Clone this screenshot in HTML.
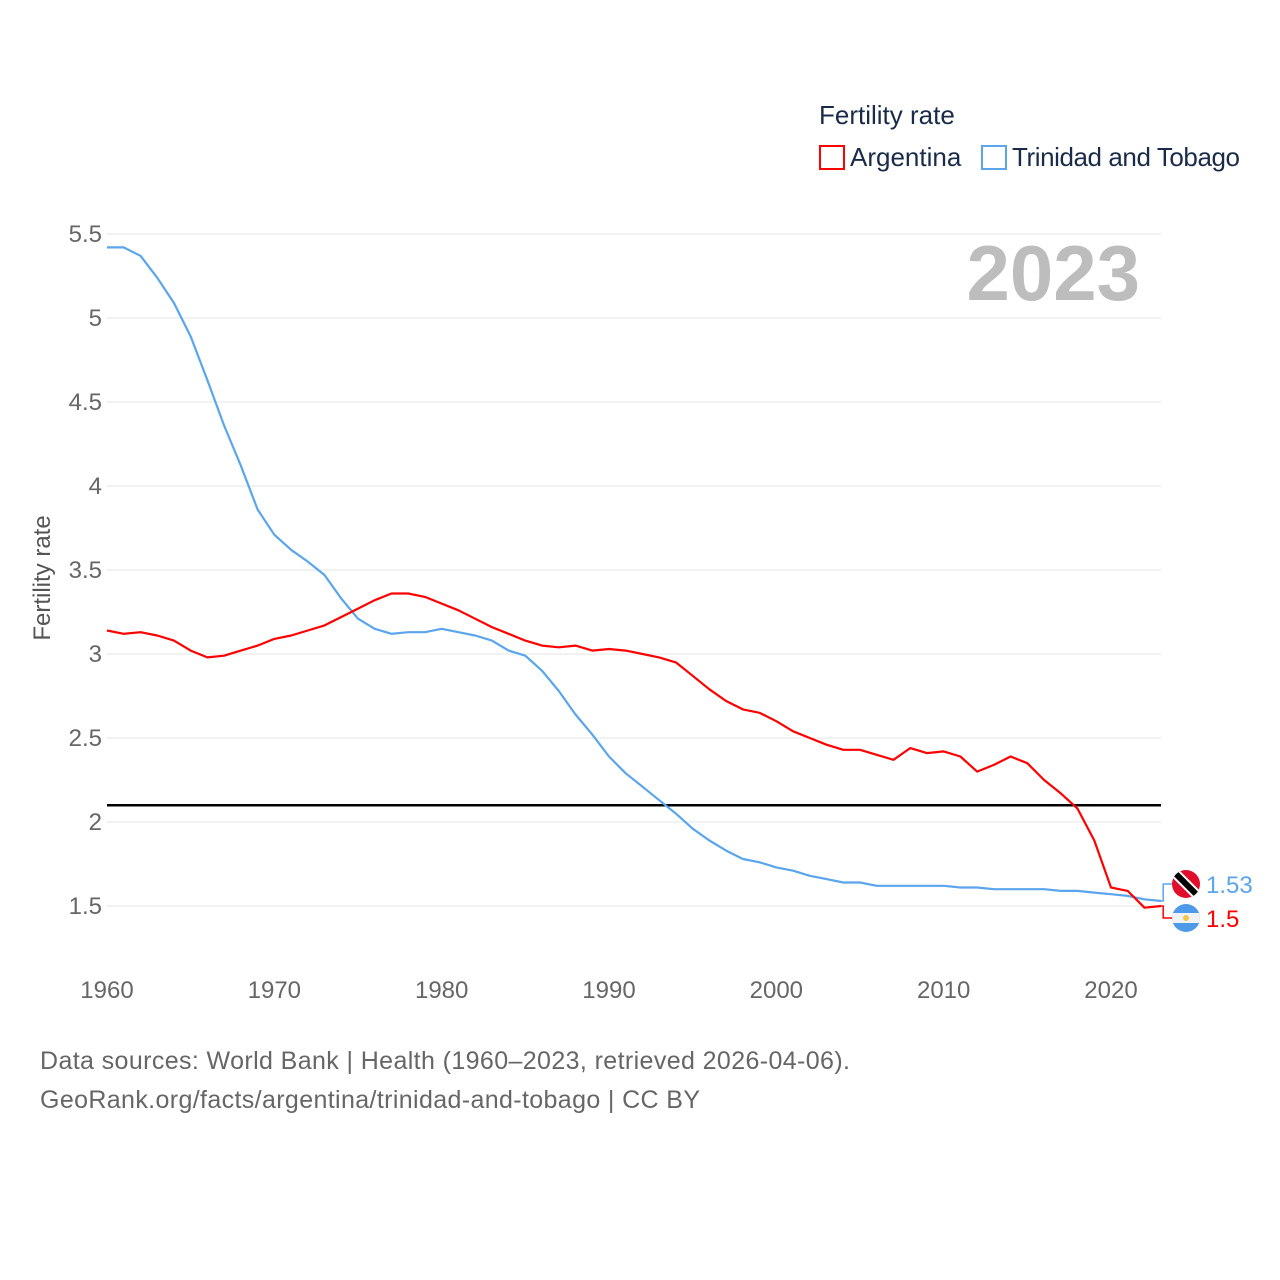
<!DOCTYPE html>
<html><head><meta charset="utf-8"><style>
body{margin:0;background:#fff;font-family:"Liberation Sans",sans-serif}
</style></head><body>
<svg id="chart" width="1280" height="1280" xmlns="http://www.w3.org/2000/svg" style="display:block">
<defs>
<clipPath id="ctt"><circle cx="1186" cy="884" r="14"/></clipPath>
<clipPath id="car"><circle cx="1186" cy="918" r="14"/></clipPath>
</defs>
<g>
<text x="819" y="124" font-size="26" fill="#1a2b4a">Fertility rate</text>
<rect x="820" y="146" width="24" height="23" fill="none" stroke="#f00" stroke-width="2"/>
<text x="850" y="166" font-size="26" fill="#1a2b4a">Argentina</text>
<rect x="982" y="146" width="24" height="23" fill="none" stroke="#5aa5ec" stroke-width="2"/>
<text x="1012" y="166" font-size="26" fill="#1a2b4a" textLength="228">Trinidad and Tobago</text>
</g>
<text x="1140" y="300" font-size="78" font-weight="bold" fill="#bdbdbd" text-anchor="end">2023</text>
<g id="grid"></g>
<g id="ticks"></g>
<text transform="translate(50,578) rotate(-90)" font-size="24" fill="#555" text-anchor="middle">Fertility rate</text>
<g id="series"></g>
<g>
<g clip-path="url(#ctt)">
<rect x="1172" y="870" width="28" height="28" fill="#e00d2c"/>
<line x1="1172" y1="870" x2="1200" y2="898" stroke="#fff" stroke-width="10"/>
<line x1="1172" y1="870" x2="1200" y2="898" stroke="#000" stroke-width="6"/>
</g>
<g clip-path="url(#car)">
<rect x="1172" y="904" width="28" height="28" fill="#4d9ae8"/>
<rect x="1172" y="913" width="28" height="10" fill="#f2f2f2"/>
<circle cx="1186" cy="918" r="3" fill="#f5c542"/>
</g>
<text x="1206" y="893" font-size="24" fill="#5aa5ec">1.53</text>
<text x="1206" y="927" font-size="24" fill="#f00">1.5</text>
</g>
<text x="40" y="1069" font-size="25" fill="#666" textLength="810">Data sources: World Bank | Health (1960–2023, retrieved 2026-04-06).</text>
<text x="40" y="1108" font-size="25" fill="#666" textLength="660">GeoRank.org/facts/argentina/trinidad-and-tobago | CC BY</text>
</svg>
<script>
const years=[];for(let y=1960;y<=2023;y++)years.push(y);
const argentina=[3.14,3.12,3.13,3.11,3.08,3.02,2.98,2.99,3.02,3.05,3.09,3.11,3.14,3.17,3.22,3.27,3.32,3.36,3.36,3.34,3.30,3.26,3.21,3.16,3.12,3.08,3.05,3.04,3.05,3.02,3.03,3.02,3.00,2.98,2.95,2.87,2.79,2.72,2.67,2.65,2.60,2.54,2.50,2.46,2.43,2.43,2.40,2.37,2.44,2.41,2.42,2.39,2.30,2.34,2.39,2.35,2.25,2.17,2.08,1.89,1.61,1.59,1.49,1.50];
const trinidad=[5.42,5.42,5.37,5.24,5.09,4.89,4.63,4.36,4.12,3.86,3.71,3.62,3.55,3.47,3.33,3.21,3.15,3.12,3.13,3.13,3.15,3.13,3.11,3.08,3.02,2.99,2.90,2.78,2.64,2.52,2.39,2.29,2.21,2.13,2.05,1.96,1.89,1.83,1.78,1.76,1.73,1.71,1.68,1.66,1.64,1.64,1.62,1.62,1.62,1.62,1.62,1.61,1.61,1.60,1.60,1.60,1.60,1.59,1.59,1.58,1.57,1.56,1.54,1.53];
const yTicks=[1.5,2,2.5,3,3.5,4,4.5,5,5.5];
const yTickLabels=["1.5","2","2.5","3","3.5","4","4.5","5","5.5"];
const xTicks=[1960,1970,1980,1990,2000,2010,2020];
const replacementRate=[2.1];
const X=v=>107+(v-1960)*(1111-107)/60;
const Y=v=>234+(5.5-v)*168;
const NS="http://www.w3.org/2000/svg";
function mk(tag,attrs,parent){const e=document.createElementNS(NS,tag);for(const k in attrs)e.setAttribute(k,attrs[k]);parent.appendChild(e);return e;}
const grid=document.getElementById('grid'),ticks=document.getElementById('ticks'),series=document.getElementById('series');
yTicks.forEach((t,i)=>{
 const l=mk('line',{x1:107,x2:1161,y1:Y(t),y2:Y(t),stroke:'#e6e6e6','stroke-width':1},grid);
 
 
 const tx=mk('text',{x:102,y:Y(t)+8,'font-size':24,fill:'#666','text-anchor':'end'},ticks);
 tx.textContent=yTickLabels[i];
 
 
});
xTicks.forEach(t=>{
 const tx=mk('text',{x:X(t),y:998,'font-size':24,fill:'#666','text-anchor':'middle'},ticks);
 tx.textContent=String(t);
 
 
});
const rl=mk('line',{x1:107,x2:1161,y1:Y(replacementRate[0]),y2:Y(replacementRate[0]),stroke:'#000','stroke-width':2.5},series);


function path(vals){return vals.map((v,i)=>(i?'L':'M')+X(years[i]).toFixed(1)+','+Y(v).toFixed(1)).join('');}
const pt=mk('path',{d:path(trinidad),fill:'none',stroke:'#5aa5ec','stroke-width':2.2,'stroke-linejoin':'round'},series);


const pa=mk('path',{d:path(argentina),fill:'none',stroke:'#f00','stroke-width':2.2,'stroke-linejoin':'round'},series);


const lx=X(2023);
const ct=mk('path',{d:`M${lx},${Y(trinidad[63])}H${lx+2}V884H1172`,fill:'none',stroke:'#5aa5ec','stroke-width':1.5},series);


const ca=mk('path',{d:`M${lx},${Y(argentina[63])}H${lx+2}V918H1172`,fill:'none',stroke:'#f00','stroke-width':1.5},series);


</script>
</body></html>
